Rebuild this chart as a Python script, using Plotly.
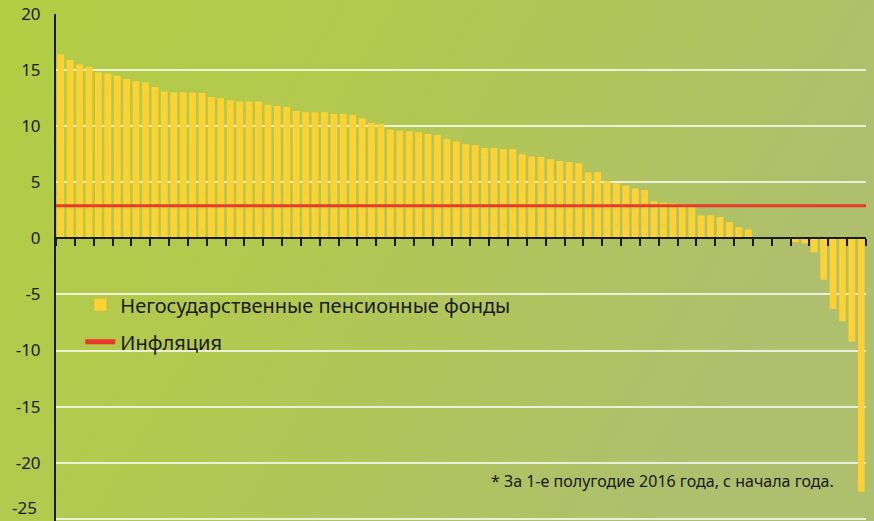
import base64
import plotly.graph_objects as go

# ---- data ----
fund_values = [
    16.4, 15.9, 15.5, 15.3, 14.8, 14.7, 14.5, 14.2, 14.0, 13.9,
    13.5, 13.1, 13.0, 13.0, 13.0, 12.95, 12.6, 12.5, 12.3, 12.2,
    12.2, 12.2, 11.9, 11.8, 11.7, 11.35, 11.25, 11.25, 11.25, 11.1,
    11.1, 11.0, 10.7, 10.3, 10.2, 9.7, 9.6, 9.55, 9.45, 9.3,
    9.2, 8.85, 8.65, 8.4, 8.3, 8.05, 8.05, 7.95, 7.95, 7.5,
    7.3, 7.25, 7.05, 6.9, 6.8, 6.7, 5.9, 5.9, 5.1, 4.9,
    4.7, 4.45, 4.3, 3.3, 3.2, 3.1, 2.9, 2.85, 2.05, 2.05,
    1.9, 1.45, 1.0, 0.8, 0.0, 0.0, 0.0, 0.0, -0.35, -0.45,
    -1.25, -3.7, -6.3, -7.4, -9.2, -22.6,
]
fund_names = [f"НПФ {i}" for i in range(1, len(fund_values) + 1)]
inflation = 2.9
series_names = ["Негосударственные пенсионные фонды", "Инфляция"]
y_ticks = [20, 15, 10, 5, 0, -5, -10, -15, -20, -25]
footnote = "* За 1-е полугодие 2016 года, с начала года."

W, H = 874, 521
ML, MR, MT, MB = 56, 8, 14, 0
PW, PH = W - ML - MR, H - MT - MB
Y_MIN, Y_MAX = -25.2, 20.0

FONT = "Noto Sans"
TICK_SIZE = 17
STANDOFF = 10

# gradient background as an inline SVG
svg = f'''<svg xmlns="http://www.w3.org/2000/svg" width="{W}" height="{H}" viewBox="0 0 {W} {H}" preserveAspectRatio="none">
<defs>
<linearGradient id="g" x1="0" y1="0" x2="1" y2="0.35">
<stop offset="0" stop-color="#b3cd43"/>
<stop offset="0.45" stop-color="#b2c851"/>
<stop offset="1" stop-color="#aebf6e"/>
</linearGradient>
</defs>
<rect width="{W}" height="{H}" fill="url(#g)"/>
</svg>'''
svg_uri = "data:image/svg+xml;base64," + base64.b64encode(svg.encode()).decode()

fig = go.Figure()
fig.add_trace(go.Bar(
    x=fund_names, y=fund_values, name=series_names[0],
    marker=dict(color="#ffd132", line=dict(width=0)),
    legendgroup="a", xaxis="x", yaxis="y",
))
fig.add_trace(go.Scatter(
    x=[0, 1], y=[inflation, inflation], name=series_names[1],
    mode="lines", line=dict(color="#e8392a", width=3),
    legendgroup="b", xaxis="x2", yaxis="y",
))

# the lowest tick label sits on the figure's bottom edge; plotly drops such
# labels, so it is written as an annotation at the same place
tick_text = [str(v) for v in y_ticks]
edge_label = tick_text[-1]
tick_text[-1] = ""

fig.update_layout(
    width=W, height=H,
    margin=dict(l=ML, r=MR, t=MT, b=MB, pad=0),
    paper_bgcolor="#b2c851",
    plot_bgcolor="rgba(0,0,0,0)",
    bargap=0.28,
    showlegend=True,
    legend=dict(
        x=0.03, y=0.465, xanchor="left", yanchor="top",
        bgcolor="rgba(0,0,0,0)",
        font=dict(family=FONT, size=20, color="#1a1a1a"),
        traceorder="grouped", tracegroupgap=8, itemsizing="constant",
    ),
    font=dict(family=FONT, color="#1a1a1a"),
    xaxis=dict(
        type="category",
        anchor="free", position=(0 - Y_MIN) / (Y_MAX - Y_MIN),
        showline=True, linecolor="#1a1a1a", linewidth=2,
        ticks="outside", tickson="boundaries", ticklen=7,
        tickwidth=1.5, tickcolor="#1a1a1a",
        showticklabels=False, showgrid=False, zeroline=False,
        range=[-0.5, len(fund_values) - 0.5],
    ),
    xaxis2=dict(
        overlaying="x", range=[0, 1], visible=False,
    ),
    yaxis=dict(
        range=[Y_MIN, Y_MAX],
        tickvals=y_ticks, ticktext=tick_text,
        showline=True, linecolor="#1a1a1a", linewidth=2,
        ticks="", showgrid=True, gridcolor="rgba(255,255,255,0.75)",
        gridwidth=1.5, zeroline=False,
        tickfont=dict(family=FONT, size=TICK_SIZE, color="#1a1a1a"),
        ticklabelstandoff=STANDOFF,
    ),
    images=[dict(
        source=svg_uri, xref="paper", yref="paper",
        x=-ML / PW, y=1 + MT / PH, sizex=W / PW, sizey=H / PH,
        xanchor="left", yanchor="top", sizing="stretch", layer="below",
    )],
    annotations=[
        dict(
            text=footnote, xref="paper", yref="y",
            x=(836 - ML) / PW, y=-21.6, xanchor="right", yanchor="middle",
            showarrow=False, font=dict(family=FONT, size=16, color="#1a1a1a"),
        ),
        dict(
            text=edge_label, xref="paper", yref="y",
            x=-(STANDOFF + 8) / PW, y=y_ticks[-1], xanchor="right", yanchor="bottom",
            yshift=-1, showarrow=False, borderpad=0,
            font=dict(family=FONT, size=TICK_SIZE, color="#1a1a1a"),
        ),
    ],
)

fig.write_html(
    "out.html",
    config={"displayModeBar": False},
    post_script="document.body.style.margin='0';document.body.style.padding='0';"
                "document.body.style.overflow='hidden';",
)
